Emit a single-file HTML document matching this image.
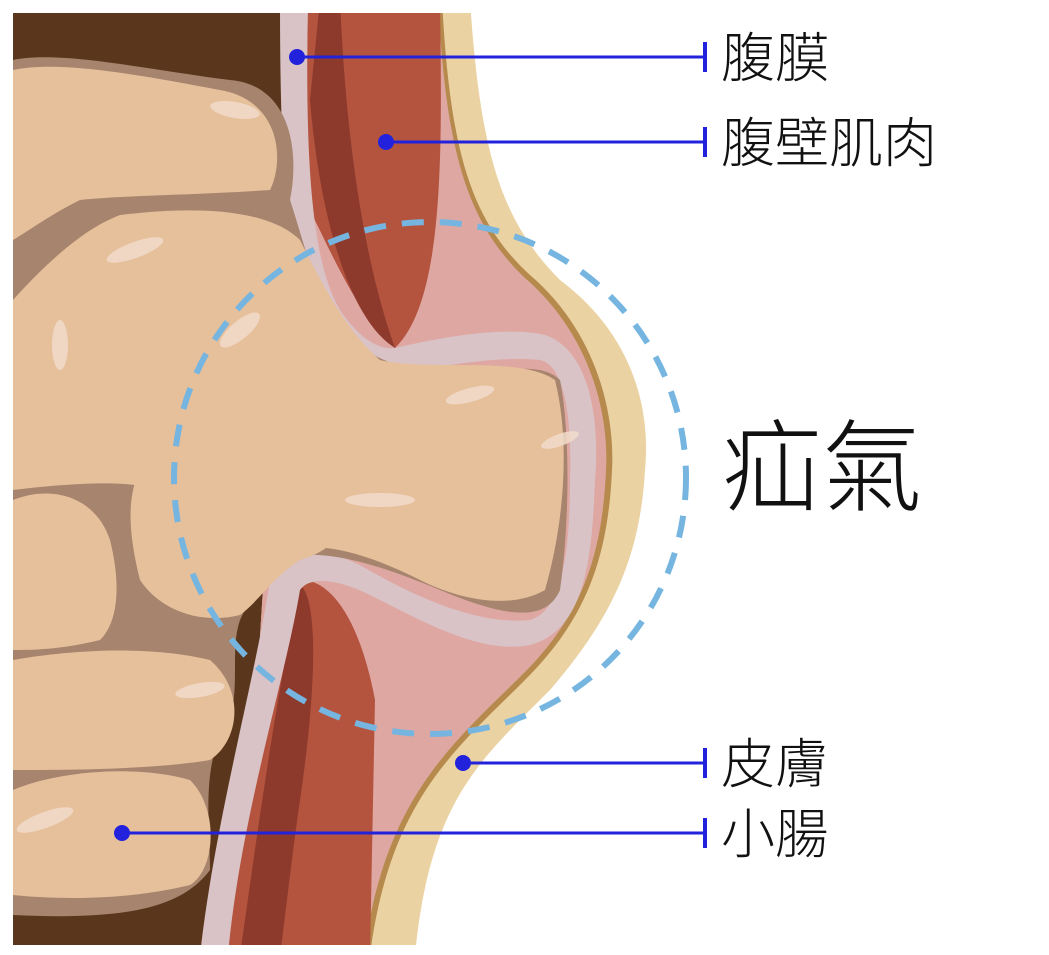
<!DOCTYPE html>
<html><head><meta charset="utf-8"><style>
html,body{margin:0;padding:0;background:#fff;}
svg{display:block}
text{font-family:"Liberation Sans","Noto Sans CJK TC",sans-serif;fill:#111;font-weight:300}
</style></head><body>
<svg width="1049" height="955" viewBox="0 0 1049 955" xmlns="http://www.w3.org/2000/svg">
<defs><clipPath id="c"><rect x="13" y="13" width="700" height="932"/></clipPath></defs>
<g clip-path="url(#c)">
<rect x="13" y="13" width="285" height="932" fill="#5a371c"/>
<!-- skin outer -->
<path d="M470 0 C480 150 500 220 560 280 C640 340 650 420 645 470 C640 560 610 620 550 690 C480 760 430 800 415 955 L240 955 L300 0Z" fill="#ebd2a2"/>
<!-- brown line -->
<path d="M442 0 C450 150 470 220 530 275 C600 335 615 420 612 470 C608 560 585 620 525 680 C455 750 390 800 370 955 L240 955 L300 0Z" fill="#b58a4c"/>
<!-- pink fat -->
<path d="M438 0 C446 150 466 222 525 278 C594 338 609 420 606 470 C602 560 580 618 520 677 C450 746 384 800 364 955 L240 955 L300 0Z" fill="#dfa7a2"/>
<!-- upper muscle -->
<path d="M308 0 L440 0 C442 150 445 300 395 348 C360 320 330 250 305 200Z" fill="#b4543f"/>
<path d="M320 0 L340 0 C345 120 360 250 395 348 C350 320 320 220 310 100Z" fill="#8d3a2c"/>
<!-- lower muscle -->
<path d="M295 580 C330 575 360 620 375 700 L370 955 L225 955 C240 850 270 700 295 580Z" fill="#b4543f"/>
<path d="M300 585 C320 600 315 700 300 800 C290 870 285 920 280 955 L240 955 C255 850 275 700 300 585Z" fill="#8d3a2c"/>
<!-- peritoneum -->
<path d="M280 0 L308 0 C305 150 310 260 340 310 C360 340 380 350 395 348 C430 340 500 325 545 335 C590 350 600 420 595 480 C592 560 585 630 530 645 C480 655 420 620 370 595 C340 580 310 575 300 590 C285 680 240 820 228 955 L200 955 C215 820 255 680 270 580 C280 550 320 545 360 565 C420 600 480 625 530 620 C565 610 570 540 570 480 C572 420 565 365 540 360 C490 355 430 370 395 372 C360 372 330 350 310 310 C285 260 280 150 280 0Z" fill="#d9c3c6"/>
<!-- intestines -->
<path d="M13 60 C60 50 150 70 230 80 C290 85 300 150 290 200 C300 230 310 270 330 320 C360 355 400 370 440 375 C500 372 540 360 560 380 C570 430 570 520 560 590 C545 625 500 615 440 590 C380 565 320 545 280 560 C260 575 250 600 240 620 C230 650 240 680 230 720 C200 760 210 820 210 870 C180 910 120 920 13 915Z" fill="#a6846d"/>
<path d="M13 70 C60 60 140 75 220 90 C280 100 285 160 270 190 C200 195 130 195 80 200 C50 215 30 230 13 240Z" fill="#e6bf9b"/>
<path d="M13 300 C40 270 80 230 120 215 C200 205 270 210 300 240 C320 280 345 330 380 360 C430 372 520 355 555 380 C570 440 565 520 545 590 C510 610 460 600 420 580 C380 560 330 540 290 550 C260 530 230 520 190 500 C150 480 100 480 13 490Z" fill="#e6bf9b"/>
<path d="M140 470 C200 445 280 470 320 500 C340 520 350 545 300 560 C270 580 260 600 240 615 C200 625 160 610 140 580 C130 540 125 500 140 470Z" fill="#e6bf9b"/>
<path d="M13 500 C50 485 95 495 110 540 C120 580 120 620 100 640 C60 650 30 650 13 650Z" fill="#e6bf9b"/>
<path d="M13 660 C70 650 150 645 210 660 C245 690 240 740 210 760 C150 770 60 770 13 770Z" fill="#e6bf9b"/>
<path d="M13 790 C60 770 140 765 190 780 C220 810 215 870 190 885 C130 900 60 900 13 895Z" fill="#e6bf9b"/>
<g fill="#f3dccb" opacity="0.85">
<ellipse cx="235" cy="110" rx="25" ry="8" transform="rotate(10 235 110)"/>
<ellipse cx="135" cy="250" rx="30" ry="8" transform="rotate(-20 135 250)"/>
<ellipse cx="240" cy="330" rx="25" ry="9" transform="rotate(-40 240 330)"/>
<ellipse cx="470" cy="395" rx="25" ry="7" transform="rotate(-15 470 395)"/>
<ellipse cx="560" cy="440" rx="20" ry="6" transform="rotate(-20 560 440)"/>
<ellipse cx="380" cy="500" rx="35" ry="7"/>
<ellipse cx="60" cy="345" rx="8" ry="25"/>
<ellipse cx="45" cy="820" rx="30" ry="8" transform="rotate(-20 45 820)"/>
<ellipse cx="200" cy="690" rx="25" ry="7" transform="rotate(-10 200 690)"/>
</g>
</g>
<!-- dashed circle -->
<circle cx="430" cy="478" r="256" fill="none" stroke="#75b5e0" stroke-width="6" stroke-dasharray="22 16"/>
<!-- labels -->
<g stroke="#2222dd" stroke-width="3" fill="#2222dd">
<line x1="297" y1="57" x2="705" y2="57"/><circle cx="297" cy="57" r="8" stroke="none"/><rect x="703" y="42" width="4" height="30" stroke="none"/>
<line x1="386" y1="142" x2="705" y2="142"/><circle cx="386" cy="142" r="8" stroke="none"/><rect x="703" y="127" width="4" height="30" stroke="none"/>
<line x1="463" y1="763" x2="705" y2="763"/><circle cx="463" cy="763" r="8" stroke="none"/><rect x="703" y="748" width="4" height="30" stroke="none"/>
<line x1="122" y1="833" x2="705" y2="833"/><circle cx="122" cy="833" r="8" stroke="none"/><rect x="703" y="818" width="4" height="30" stroke="none"/>
</g>
<text x="721" y="77" font-size="54">腹膜</text>
<text x="721" y="162" font-size="54">腹壁肌肉</text>
<text x="721" y="783" font-size="54">皮膚</text>
<text x="721" y="853" font-size="54">小腸</text>
<text x="722" y="503" font-size="100">疝氣</text>
</svg>
</body></html>
